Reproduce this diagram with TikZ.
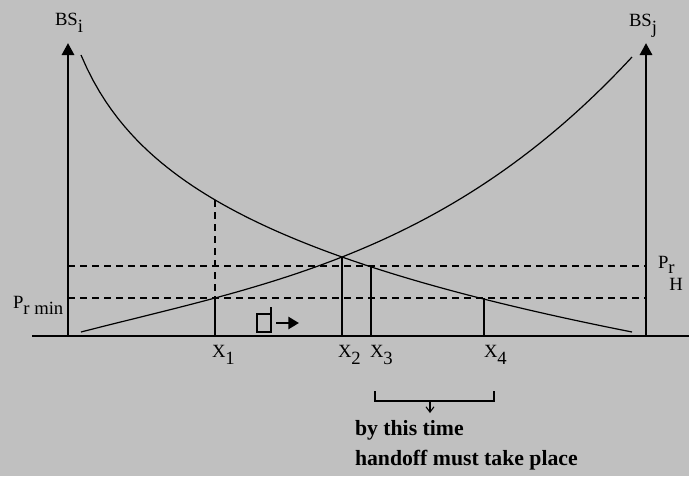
\documentclass[tikz,border=0pt]{standalone}
\usepackage{fontspec}
\setmainfont{Liberation Serif}
\usetikzlibrary{arrows.meta}
\definecolor{panelgray}{RGB}{192,192,192}
\newcommand{\lowsub}[1]{\raisebox{-5.5pt}{#1}}
\tikzset{
  axisline/.style={line width=2.2pt,-{Triangle[length=9pt,width=9pt]}},
  curveline/.style={line width=0.9pt},
  levelline/.style={line width=0.8pt,dash pattern=on 5.25pt off 3.75pt},
  dropline/.style={line width=0.9pt},
  lbl/.style={anchor=base west,inner sep=0pt,outer sep=0pt},
  note/.style={lbl,font=\fontsize{16.3}{19}\selectfont\bfseries}
}
\begin{document}
\begin{tikzpicture}[x=0.75pt,y=-0.75pt,font=\fontsize{14}{16}\selectfont]
\fill[panelgray] (0,0) rectangle (689,476);
\useasboundingbox (0,0) rectangle (689,476);

% ground line and the two base stations
\coordinate (g0) at (32,336);
\coordinate (g1) at (689,336);
\draw[line width=1.1pt] (g0) -- (g1);
\coordinate (bsi) at (68,336);
\coordinate (bsitop) at (68,43);
\coordinate (bsj) at (646,336);
\coordinate (bsjtop) at (646,43);
\draw[axisline] (bsi) -- (bsitop);
\draw[axisline] (bsj) -- (bsjtop);
\node[lbl] (bsilbl) at (55,25) {BS\lowsub{i}};
\node[lbl] (bsjlbl) at (629,26) {BS\lowsub{j}};

% threshold levels
\coordinate (hl) at (68,266);
\coordinate (hr) at (646,266);
\coordinate (ml) at (68,298);
\coordinate (mr) at (646,298);
\draw[levelline] (hl) -- (hr);
\draw[levelline] (ml) -- (mr);
\node[lbl] (prmin) at (13,308) {P\raisebox{-4.5pt}{r min}};
\node[lbl] (prh) at (658,268) {P\raisebox{-4pt}{r}\hspace{-4pt}\raisebox{-16.5pt}{H}};

% received power from each station
\draw[curveline] plot[domain=81:632,samples=90] (\x,{96.69*ln(\x-40)+0.0342*\x-306.84});
\draw[curveline] plot[domain=81:632,samples=90]
  (\x,{332-25.727*((\x-81)/100)+1.76*((\x-81)/100)^2-1.1159*((\x-81)/100)^3});

% drop lines to the positions
\coordinate (x1top) at (215,200);
\coordinate (x1mid) at (215,298);
\coordinate (x1) at (215,336);
\coordinate (x2top) at (342,257);
\coordinate (x2) at (342,336);
\coordinate (x3top) at (371,266);
\coordinate (x3) at (371,336);
\coordinate (x4top) at (484,298);
\coordinate (x4) at (484,336);
\draw[levelline] (x1top) -- (x1mid);
\draw[dropline] (x1mid) -- (x1);
\draw[dropline] (x2top) -- (x2);
\draw[dropline] (x3top) -- (x3);
\draw[dropline] (x4top) -- (x4);
\node[lbl] (x1lbl) at (212,357) {X\lowsub{1}};
\node[lbl] (x2lbl) at (338,357) {X\lowsub{2}};
\node[lbl] (x3lbl) at (370,357) {X\lowsub{3}};
\node[lbl] (x4lbl) at (484,357) {X\lowsub{4}};

% mobile moving right
\draw[line width=0.8pt] (257,314) rectangle (271,332);
\coordinate (ant0) at (271,314);
\coordinate (ant1) at (271,307);
\draw[line width=0.8pt] (ant0) -- (ant1);
\coordinate (mv0) at (276,323);
\coordinate (mv1) at (299,323);
\draw[line width=2pt,-{Triangle[length=8pt,width=9pt]}] (mv0) -- (mv1);

% handoff interval
\coordinate (b0) at (375,391);
\coordinate (b1) at (375,401);
\coordinate (b2) at (494,401);
\coordinate (b3) at (494,391);
\draw[line width=0.8pt] (b0) -- (b1) -- (b2) -- (b3);
\coordinate (bm) at (430,401);
\coordinate (bd) at (430,413);
\draw[line width=0.8pt,-{Straight Barb[length=4pt,width=6pt]}] (bm) -- (bd);
\node[note] (by) at (355,435) {by this time};
\node[note] (hand) at (355,465) {handoff must take place};
\end{tikzpicture}
\end{document}
